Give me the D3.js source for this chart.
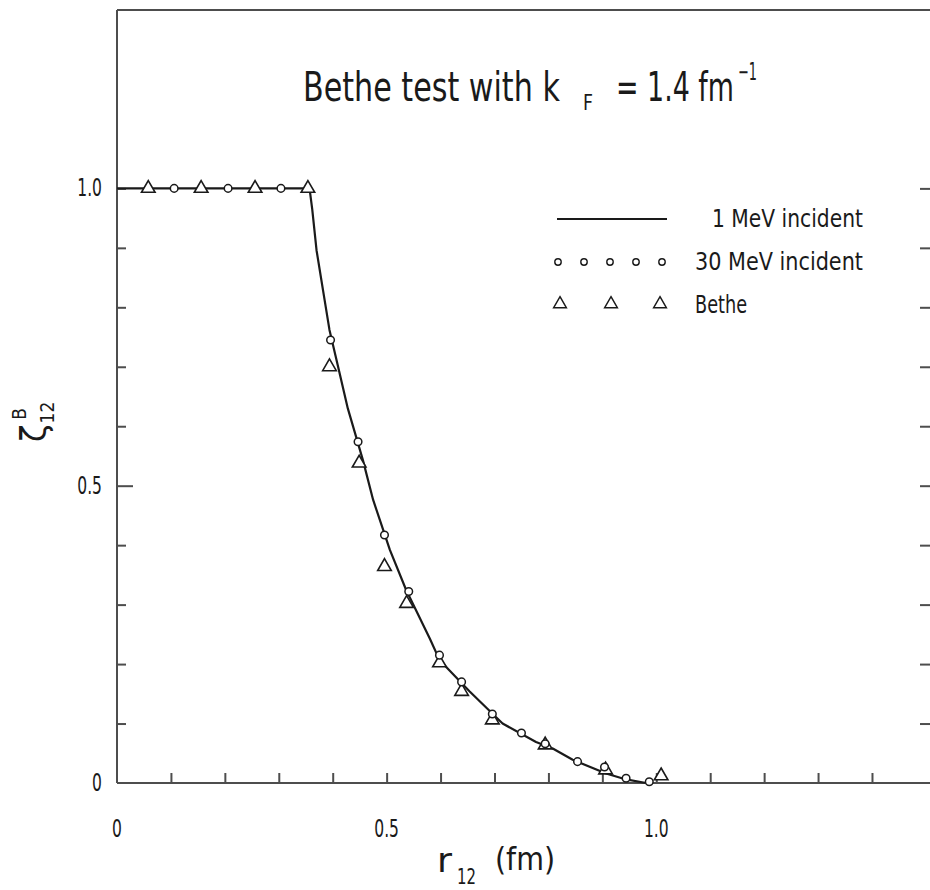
<!DOCTYPE html>
<html>
<head>
<meta charset="utf-8">
<script src="https://cdn.jsdelivr.net/npm/d3@7"></script>
<style>
  html, body { margin: 0; padding: 0; background: #fff; }
  svg { display: block; }
  text { font-family: "Liberation Sans Narrow", "DejaVu Sans Condensed", "Liberation Sans", sans-serif; fill: #1a1a1a; }
</style>
</head>
<body>
<svg id="chart" width="930" height="890"></svg>
<script>
// Correlation function ζ12^B versus relative distance r12 (fm)

// 1 MeV incident — solid curve
const lineR = [0, 0.357, 0.362, 0.370, 0.382, 0.394, 0.410, 0.428, 0.438, 0.456, 0.475, 0.506, 0.536, 0.580, 0.598, 0.654, 0.715, 0.777, 0.808, 0.845, 0.907, 0.944, 0.981];
const lineZ = [1.0, 1.0, 0.965, 0.896, 0.829, 0.762, 0.700, 0.630, 0.599, 0.543, 0.476, 0.392, 0.325, 0.243, 0.207, 0.154, 0.100, 0.069, 0.058, 0.039, 0.016, 0.006, 0.0];

// 30 MeV incident — open circles
const circleR = [0.106, 0.206, 0.304, 0.396, 0.447, 0.496, 0.541, 0.598, 0.639, 0.696, 0.750, 0.794, 0.854, 0.904, 0.944, 0.987];
const circleZ = [1.0, 1.0, 1.0, 0.745, 0.574, 0.417, 0.322, 0.215, 0.170, 0.116, 0.084, 0.066, 0.036, 0.027, 0.008, 0.002];

// Bethe — open triangles
const triR = [0.058, 0.156, 0.256, 0.354, 0.394, 0.449, 0.496, 0.537, 0.598, 0.639, 0.696, 0.794, 0.906, 1.009];
const triZ = [1.0, 1.0, 1.0, 1.0, 0.700, 0.538, 0.364, 0.302, 0.202, 0.154, 0.106, 0.064, 0.022, 0.012];

// Axis ticks and labels
const xTickValues = [0.1, 0.2, 0.3, 0.4, 0.5, 0.6, 0.7, 0.8, 0.9, 1.0, 1.1, 1.2, 1.3, 1.4];
const xLabelValues = [0, 0.5, 1.0];
const xLabelText = ["0", "0.5", "1.0"];
const yTickValues = [0.1, 0.2, 0.3, 0.4, 0.5, 0.6, 0.7, 0.8, 0.9, 1.0];
const yLabelValues = [0, 0.5, 1.0];
const yLabelText = ["0", "0.5", "1.0"];

// Legend entries
const legendText = ["1 MeV incident", "30 MeV incident", "Bethe"];

const svg = d3.select("#chart");
const plotLeft = 117, plotTop = 10, plotBottom = 783, plotRight = 934;

const x = d3.scaleLinear().domain([0, 1.515]).range([plotLeft, plotRight]);
const y = d3.scaleLinear().domain([0, 1.3]).range([plotBottom, plotTop]);

const ink = "#1a1a1a";
const axisInk = "#4d4d4d";

// Narrow lettering: place a text at (px, py) and squeeze it horizontally.
// width sets the final width; factor squeezes by a ratio instead.
function narrowText(parent, px, py, size, str, opts = {}) {
  const g = parent.append("g");
  const t = g.append("text").attr("x", 0).attr("y", 0).attr("font-size", size).text(str);
  const w = t.node().getComputedTextLength();
  const sx = opts.width ? opts.width / w : (opts.factor || 0.75);
  const anchor = opts.anchor || "start";
  const shift = anchor === "end" ? -w * sx : anchor === "middle" ? -w * sx / 2 : 0;
  g.attr("transform", `translate(${px + shift},${py}) scale(${sx},1)`);
  return t;
}

// Frame: left, top and bottom rules
const frame = svg.append("g");
frame.append("line").attr("x1", plotLeft).attr("x2", plotLeft).attr("y1", plotTop).attr("y2", plotBottom)
  .attr("stroke", axisInk).attr("stroke-width", 2);
frame.append("line").attr("x1", plotLeft).attr("x2", plotRight).attr("y1", plotTop).attr("y2", plotTop)
  .attr("stroke", axisInk).attr("stroke-width", 2);
frame.append("line").attr("x1", plotLeft).attr("x2", plotRight).attr("y1", plotBottom).attr("y2", plotBottom)
  .attr("stroke", axisInk).attr("stroke-width", 2);

// Inward ticks via d3 axes
const xAxis = d3.axisTop(x).tickValues(xTickValues).tickSize(10).tickFormat("").tickSizeOuter(0);
svg.append("g").attr("transform", `translate(0,${plotBottom})`).call(xAxis)
  .call(g => g.select(".domain").remove())
  .call(g => g.selectAll(".tick line").attr("stroke", axisInk).attr("stroke-width", 2));

const yAxisL = d3.axisRight(y).tickValues(yTickValues).tickSize(9).tickFormat("").tickSizeOuter(0);
svg.append("g").attr("transform", `translate(${plotLeft},0)`).call(yAxisL)
  .call(g => g.select(".domain").remove())
  .call(g => g.selectAll(".tick line").attr("stroke", axisInk).attr("stroke-width", 2)
    .attr("x2", d => d === 0.5 ? 16 : 9));

const yAxisR = d3.axisLeft(y).tickValues(yTickValues).tickSize(12).tickFormat("").tickSizeOuter(0);
svg.append("g").attr("transform", `translate(${plotRight - 2},0)`).call(yAxisR)
  .call(g => g.select(".domain").remove())
  .call(g => g.selectAll(".tick line").attr("stroke", axisInk).attr("stroke-width", 2));

// Tick labels
const xLab = svg.append("g");
xLabelValues.forEach((v, i) => narrowText(xLab, x(v), 837, 24, xLabelText[i], { factor: 0.72, anchor: "middle" }));
const yLab = svg.append("g");
yLabelValues.forEach((v, i) => narrowText(yLab, 102, y(v) + 8, 24, yLabelText[i], { factor: 0.72, anchor: "end" }));

// Axis titles
narrowText(svg, 437, 872, 34, "r", { width: 15 });
narrowText(svg, 457, 884, 22, "12", { width: 19 });
narrowText(svg, 495, 870, 32, "(fm)", { width: 60 });

const yt = svg.append("text").attr("transform", "translate(46,442) rotate(-90)").attr("font-size", 36);
yt.append("tspan").text("ζ");
yt.append("tspan").attr("font-size", 19).attr("dy", 8).attr("dx", 1).text("12");
yt.append("tspan").attr("font-size", 19).attr("dy", -28).attr("dx", -18).text("B");

// Title, set piece by piece
narrowText(svg, 303, 101, 41, "Bethe test  with k", { width: 257 });
narrowText(svg, 583, 110, 22, "F", { width: 10 });
narrowText(svg, 616, 101, 41, "= 1.4 fm", { width: 118 });
narrowText(svg, 738, 80, 24, "−1", { width: 19 });

// Curve
const line = d3.line().x(i => x(lineR[i])).y(i => y(lineZ[i]));
svg.append("path").attr("d", line(d3.range(lineR.length)))
  .attr("fill", "none").attr("stroke", ink).attr("stroke-width", 2.2).attr("stroke-linejoin", "round");

// Markers
const tri = d3.symbol().type(d3.symbolTriangle).size(80);
svg.append("g").selectAll("path").data(triR).join("path")
  .attr("d", tri)
  .attr("transform", (d, i) => `translate(${x(d)},${y(triZ[i])})`)
  .attr("fill", "#fff").attr("stroke", ink).attr("stroke-width", 1.6);

svg.append("g").selectAll("circle").data(circleR).join("circle")
  .attr("cx", d => x(d)).attr("cy", (d, i) => y(circleZ[i])).attr("r", 3.8)
  .attr("fill", "#fff").attr("stroke", ink).attr("stroke-width", 1.5);

// Legend
const lg = svg.append("g");
lg.append("line").attr("x1", 557).attr("x2", 667).attr("y1", 219).attr("y2", 219)
  .attr("stroke", ink).attr("stroke-width", 2);
lg.selectAll("circle").data([558, 584, 610, 636, 662]).join("circle")
  .attr("cx", d => d).attr("cy", 262).attr("r", 3.2)
  .attr("fill", "#fff").attr("stroke", ink).attr("stroke-width", 1.4);
lg.selectAll("path").data([560, 611, 660]).join("path")
  .attr("d", d3.symbol().type(d3.symbolTriangle).size(70))
  .attr("transform", d => `translate(${d},304)`)
  .attr("fill", "#fff").attr("stroke", ink).attr("stroke-width", 1.5);
narrowText(lg, 712, 227, 24, legendText[0], { width: 151 });
narrowText(lg, 695, 270, 24, legendText[1], { width: 168 });
narrowText(lg, 695, 313, 24, legendText[2], { factor: 0.82 });
</script>
</body>
</html>
